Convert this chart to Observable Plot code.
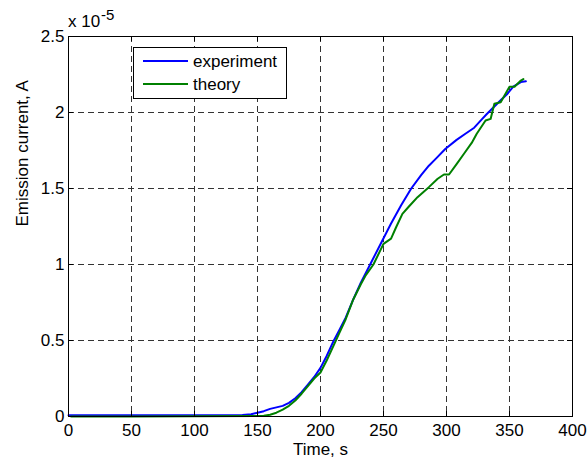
<!DOCTYPE html>
<html>
<head>
<meta charset="utf-8">
<script src="https://cdn.jsdelivr.net/npm/d3@7"></script>
<script src="https://cdn.jsdelivr.net/npm/@observablehq/plot@0.6"></script>
<style>
  html, body { margin: 0; padding: 0; background: #fff; }
  #chart { width: 587px; height: 463px; }
</style>
</head>
<body>
<div id="chart"></div>
<script>
// ---- data (current in units of 1e-5 A) ----
const timeExp = [0, 20, 40, 60, 80, 100, 120, 138, 145, 150, 155, 160, 165, 170, 175, 180, 185, 190, 195, 200, 205, 210, 215, 220, 226, 232, 240, 248, 256, 264, 272, 280, 286, 292, 299, 308, 315, 322, 328, 332, 338, 343, 348, 353, 359, 363];
const currentExp = [0.008, 0.008, 0.008, 0.008, 0.008, 0.008, 0.008, 0.01, 0.015, 0.025, 0.035, 0.05, 0.06, 0.07, 0.09, 0.12, 0.16, 0.21, 0.26, 0.32, 0.40, 0.49, 0.57, 0.65, 0.77, 0.88, 1.01, 1.14, 1.27, 1.39, 1.50, 1.59, 1.65, 1.70, 1.76, 1.82, 1.86, 1.90, 1.955, 1.99, 2.04, 2.08, 2.12, 2.17, 2.20, 2.205];
const timeTh = [2, 50, 100, 150, 155, 160, 165, 170, 175, 180, 185, 190, 195, 200, 205, 210, 215, 220, 226, 232, 236, 242, 250, 256, 260, 265, 270, 277, 286, 293, 298, 302, 308, 314, 320, 324, 331, 335, 338, 343, 350, 354, 359, 361];
const currentTh = [0, 0, 0.002, 0.003, 0.005, 0.012, 0.025, 0.045, 0.07, 0.105, 0.15, 0.2, 0.25, 0.29, 0.37, 0.46, 0.55, 0.64, 0.77, 0.87, 0.93, 1.0, 1.136, 1.17, 1.245, 1.333, 1.38, 1.443, 1.509, 1.564, 1.592, 1.592, 1.66, 1.73, 1.80, 1.86, 1.947, 1.958, 2.057, 2.068, 2.17, 2.17, 2.21, 2.22];
const seriesNames = ["experiment", "theory"];
const seriesColors = ["#0000ff", "#008000"];
const xTicks = [0, 50, 100, 150, 200, 250, 300, 350, 400];
const yTicks = [0, 0.5, 1, 1.5, 2, 2.5];
const xLabel = "Time, s";
const yLabel = "Emission current, A";

const expData = timeExp.map((t, i) => ({t, v: currentExp[i]}));
const thData = timeTh.map((t, i) => ({t, v: currentTh[i]}));

const W = 587, H = 463;
const mL = 68, mR = 15, mT = 36, mB = 47;
const tickPx = 5;
const xPerPx = 400 / (W - mL - mR);
const yPerPx = 2.5 / (H - mT - mB);
const grid = {stroke: "#333", strokeWidth: 1, strokeDasharray: "6,4"};
const font = "'Liberation Sans', Arial, Helvetica, sans-serif";

const chart = Plot.plot({
  width: W, height: H,
  marginLeft: mL, marginRight: mR, marginTop: mT, marginBottom: mB,
  x: {domain: [0, 400], ticks: xTicks},
  y: {domain: [0, 2.5], ticks: yTicks},
  style: {fontFamily: font, fontSize: "17px", color: "#000", background: "#fff", overflow: "visible"},
  marks: [
    Plot.ruleX(xTicks.slice(1, -1), grid),
    Plot.ruleY(yTicks.slice(1, -1), grid),
    Plot.line(expData, {x: "t", y: "v", stroke: seriesColors[0], strokeWidth: 2}),
    Plot.line(thData, {x: "t", y: "v", stroke: seriesColors[1], strokeWidth: 2}),
    // inward ticks on all four sides
    Plot.ruleX(xTicks, {y1: 0, y2: tickPx * yPerPx, stroke: "#000"}),
    Plot.ruleX(xTicks, {y1: 2.5, y2: 2.5 - tickPx * yPerPx, stroke: "#000"}),
    Plot.ruleY(yTicks, {x1: 0, x2: tickPx * xPerPx, stroke: "#000"}),
    Plot.ruleY(yTicks, {x1: 400, x2: 400 - tickPx * xPerPx, stroke: "#000"}),
    Plot.frame({stroke: "#000", strokeWidth: 1}),
    Plot.axisX({ticks: xTicks, tickSize: 0, tickPadding: 7, label: null, tickFormat: d => String(d)}),
    Plot.axisY({ticks: yTicks, tickSize: 0, tickPadding: 4, label: null, tickFormat: d => String(d)}),
    Plot.text([xLabel], {frameAnchor: "bottom", dy: 38, fontSize: 17}),
    Plot.text([yLabel], {frameAnchor: "left", dx: -46, rotate: -90, fontSize: 17})
  ]
});

document.getElementById("chart").appendChild(chart);

// exponent label and legend
const svg = d3.select(chart);
const exp = svg.append("g").attr("font-family", font).attr("fill", "#000").attr("text-anchor", "start");
exp.append("text").attr("x", mL).attr("y", 27).attr("font-size", 17).text("x 10");
exp.append("text").attr("x", mL + 33).attr("y", 20).attr("font-size", 15).text("-5");

const leg = svg.append("g").attr("font-family", font).attr("text-anchor", "start");
leg.append("rect").attr("x", 133.5).attr("y", 47.5).attr("width", 153).attr("height", 51)
  .attr("fill", "#fff").attr("stroke", "#000");
seriesNames.forEach((name, i) => {
  const y = 61 + i * 23;
  leg.append("line").attr("x1", 143).attr("x2", 188).attr("y1", y).attr("y2", y)
    .attr("stroke", seriesColors[i]).attr("stroke-width", 2);
  leg.append("text").attr("x", 193).attr("y", y).attr("dy", "0.35em")
    .attr("font-size", 17).attr("fill", "#000").text(name);
});
</script>
</body>
</html>
